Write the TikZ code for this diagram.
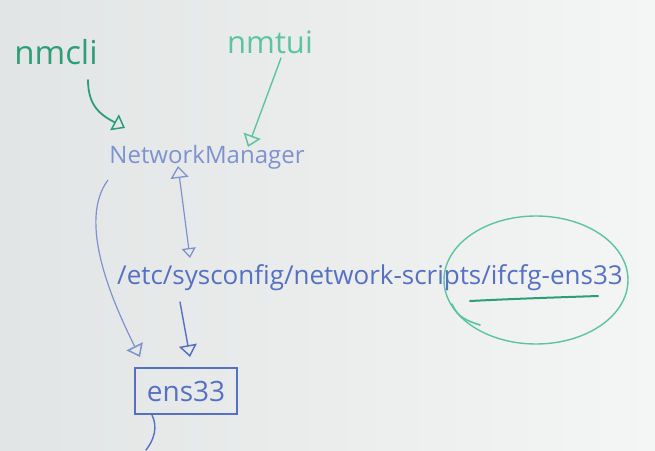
\documentclass[tikz,border=0pt]{standalone}
\usepackage{fontspec}
\setmainfont{Open Sans}
\usetikzlibrary{arrows.meta,shapes.geometric}
\definecolor{mkgreen}{HTML}{2E9E78}
\definecolor{mkgreenlt}{HTML}{5CC4A0}
\definecolor{mkblue}{HTML}{5670C4}
\definecolor{mkbluelt}{HTML}{7E92D0}
\tikzset{
  gtext/.style={text=mkgreen, font=\fontsize{33}{35}\selectfont, inner sep=2pt},
  btext/.style={text=mkblue, font=\fontsize{26}{28}\selectfont, inner sep=2pt},
  gline/.style={draw=mkgreen, line width=1.8pt, line cap=round},
  bline/.style={draw=mkblue, line width=1.4pt, line cap=round},
  blinelt/.style={draw=mkbluelt, line width=1.2pt, line cap=round},
  otip/.style={-{Triangle[open, length=12pt, width=18pt, line width=1.5pt]}},
  enbox/.style={draw=mkblue, line width=1.4pt, minimum width=102pt, minimum height=46pt, inner sep=2pt},
  ringshape/.style={ellipse, draw=mkgreenlt, line width=1.4pt, minimum width=184pt, minimum height=128pt}
}
\begin{document}
\begin{tikzpicture}[x=1pt,y=-1pt]
\shade[left color={rgb,255:red,226;green,229;blue,229}, right color={rgb,255:red,244;green,245;blue,245}] (0,0) rectangle (655,450);
\useasboundingbox (0,0) rectangle (655,450);

\node[gtext] (nmcli) at (56,52) {nmcli};
\node[gtext, text=mkgreenlt, font=\fontsize{31}{33}\selectfont] (nmtui) at (270,42) {nmtui};
\node[btext, text=mkbluelt, font=\fontsize{24}{26}\selectfont] (nm) at (207,157) {NetworkManager};
\node[btext] (path) at (370,278) {/etc/sysconfig/network-scripts/ifcfg-ens33};
\node[btext, enbox, font=\fontsize{28}{30}\selectfont] (ens) at (186,391) {ens33};
\node[ringshape] (ring) at (536,280) {};

% green arrows into NetworkManager
\draw[gline, otip] ([shift={(32,28)}]nmcli.center) .. controls +(0,28) and +(-22,-12) .. ([shift={(-82,-29)}]nm.center);
\draw[gline, draw=mkgreenlt, line width=1.4pt, otip] ([shift={(11,16)}]nmtui.center) -- ([shift={(41,-10)}]nm.center);

% double arrow NetworkManager <-> path
\draw[blinelt, {Triangle[open, length=12pt, width=18pt, line width=1.3pt]}-{Triangle[open, length=10pt, width=14pt, line width=1.3pt]}]
  ([shift={(-29,9)}]nm.center) -- ([shift={(-180,-20)}]path.center);

% path -> ens33
\draw[bline, otip] ([shift={(-190,24)}]path.center) -- ([shift={(4,-34)}]ens.center);

% NetworkManager -> ens33 (curved)
\draw[blinelt, otip] ([shift={(-99,23)}]nm.center) .. controls +(-30,40) and +(-30,-60) .. ([shift={(-46,-34)}]ens.center);

% ens33 -> down
\coordinate (below) at (146,450);
\draw[bline] ([shift={(-34,24)}]ens.center) .. controls +(6,12) and +(8,-10) .. (below);

% green marks on the ring
\draw[gline, line width=2pt] ([shift={(-66,21)}]ring.center) .. controls +(40,-2) and +(-60,2) .. ([shift={(62,16)}]ring.center);
\draw[gline, draw=mkgreenlt, line width=1.6pt] ([shift={(-84,24)}]ring.center) .. controls +(6,14) and +(-12,-4) .. ([shift={(-56,45)}]ring.center);
\end{tikzpicture}
\end{document}
